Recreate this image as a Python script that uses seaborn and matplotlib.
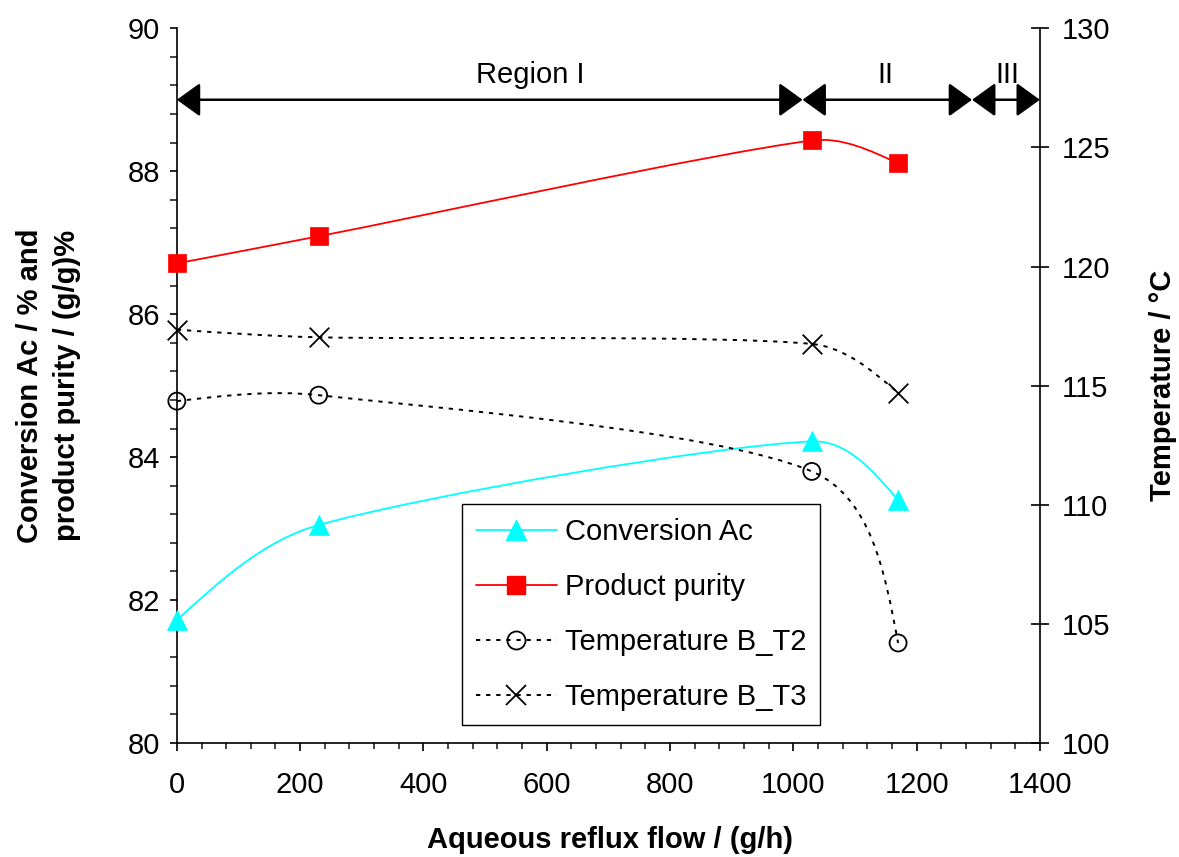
import numpy as np
import pandas as pd
import matplotlib
matplotlib.use("Agg")
import matplotlib.pyplot as plt
import seaborn as sns
from matplotlib.path import Path
from matplotlib.patches import PathPatch
from matplotlib.lines import Line2D
from matplotlib.ticker import MultipleLocator

# ---------------- data ----------------
flow = [0, 230, 1030, 1170]
conversion = [81.72, 83.05, 84.22, 83.40]
purity = [86.71, 87.09, 88.43, 88.11]
temp_T2 = [114.35, 114.6, 111.4, 104.2]
temp_T3 = [117.35, 117.03, 116.75, 114.7]

region_edges = [0, 1015, 1290, 1400]
region_labels = ["Region I", "II", "III"]
region_label_x = [573, 1149, 1347]

series_labels = ["Conversion Ac", "Product purity", "Temperature B_T2", "Temperature B_T3"]

# ---------------- style ----------------
sns.set_theme(style="ticks")
plt.rcParams["font.family"] = ["Liberation Sans", "DejaVu Sans"]
plt.rcParams["font.size"] = 21
plt.rcParams["text.color"] = "black"
plt.rcParams["axes.labelcolor"] = "black"

fig = plt.figure(figsize=(11.79, 8.57), dpi=100)
ax = fig.add_axes([0.150, 0.133, 0.732, 0.834])
ax2 = ax.twinx()

ax.set_xlim(0, 1400)
ax.set_ylim(80, 90)
ax2.set_ylim(100, 130)


def smooth_patch(a, x, y, **kw):
    """Excel-like smoothed line: cubic Bezier path through the data points,
    control handles computed in screen space."""
    tr = a.transData
    pts = tr.transform(np.column_stack([x, y]).astype(float))
    n = len(pts)
    seg = [np.linalg.norm(pts[i + 1] - pts[i]) for i in range(n - 1)]

    def handle(i, j, sgn):
        lo, hi = max(i - 1, 0), min(i + 1, n - 1)
        t = (pts[hi] - pts[lo]) / 6.0
        L = seg[min(i, j)]
        ln = np.linalg.norm(t)
        if ln > L / 3.0:
            t = t * (L / 3.0) / ln
        return pts[i] + sgn * t

    verts = [pts[0]]
    codes = [Path.MOVETO]
    for i in range(n - 1):
        j = i + 1
        c1 = handle(i, j, 1) if i > 0 else None
        c2 = handle(j, i, -1) if j < n - 1 else None
        if c1 is None:
            c1 = pts[i] + (c2 - pts[i]) * 0.5
        if c2 is None:
            c2 = pts[j] + (c1 - pts[j]) * 0.5
        verts += [c1, c2, pts[j]]
        codes += [Path.CURVE4] * 3
    verts = tr.inverted().transform(np.array(verts))
    return PathPatch(Path(verts, codes), fill=False, transform=a.transData, **kw)


df = pd.DataFrame({"flow": flow, "conv": conversion, "pur": purity,
                   "t2": temp_T2, "t3": temp_T3})

dot = (0, (2.2, 3.0))
# left axis series
ax.add_patch(smooth_patch(ax, flow, conversion, edgecolor="#00FFFF", lw=1.3, zorder=3))
ax.add_patch(smooth_patch(ax, flow, purity, edgecolor="#FF0000", lw=1.3, zorder=3))
sns.scatterplot(data=df, x="flow", y="conv", ax=ax, marker="^", s=210,
                color="#00FFFF", edgecolor="#00FFFF", linewidth=0.5, zorder=4,
                legend=False, clip_on=False)
sns.scatterplot(data=df, x="flow", y="pur", ax=ax, marker="s", s=175,
                color="#FF0000", edgecolor="#FF0000", linewidth=0.5, zorder=4,
                legend=False, clip_on=False)

# right axis series
ax2.add_patch(smooth_patch(ax2, flow, temp_T2, edgecolor="black", lw=1.4, linestyle=dot, zorder=3))
ax2.add_patch(smooth_patch(ax2, flow, temp_T3, edgecolor="black", lw=1.4, linestyle=dot, zorder=3))
sns.scatterplot(data=df, x="flow", y="t2", ax=ax2, marker="o", s=150,
                facecolor="none", edgecolor="black", linewidth=1.3, zorder=4,
                legend=False, clip_on=False)
sns.scatterplot(data=df, x="flow", y="t3", ax=ax2, marker="x", s=200,
                color="black", linewidth=1.3, zorder=4, legend=False, clip_on=False)

ax.set_xlim(0, 1400)
ax.set_ylim(80, 90)
ax2.set_ylim(100, 130)
ax.xaxis.set_major_locator(MultipleLocator(200))
ax.xaxis.set_minor_locator(MultipleLocator(40))
ax.yaxis.set_major_locator(MultipleLocator(2))
ax.yaxis.set_minor_locator(MultipleLocator(0.4))
ax2.yaxis.set_major_locator(MultipleLocator(5))

for a in (ax, ax2):
    a.set_facecolor("none")
    a.spines["top"].set_visible(False)
    for s in a.spines.values():
        s.set_linewidth(1.2)
        s.set_color("black")
ax.spines["right"].set_visible(False)
ax2.spines["left"].set_visible(False)
ax2.spines["bottom"].set_visible(False)

ax.tick_params(axis="x", which="major", direction="out", length=6, width=1.2, pad=14, labelsize=21, colors="black")
ax.tick_params(axis="x", which="minor", direction="out", length=4.5, width=1.2)
ax.tick_params(axis="y", which="major", direction="out", length=5, width=1.2, pad=7, labelsize=21, colors="black")
ax.tick_params(axis="y", which="minor", direction="out", length=5, width=1.2)
ax2.tick_params(axis="y", which="major", direction="inout", length=13, width=1.2, pad=9, labelsize=21, colors="black")
ax2.tick_params(axis="y", which="minor", length=0)

# axis labels
ax.set_xlabel("Aqueous reflux flow / (g/h)", fontsize=21, fontweight="bold", va="center")
ax.xaxis.set_label_coords(0.502, -0.136)
ax.set_ylabel("Conversion Ac / % and\nproduct purity / (g/g)%", fontsize=21,
              fontweight="bold", va="center", ha="center", multialignment="center",
              linespacing=1.4)
ax.yaxis.set_label_coords(-0.149, 0.5)
ax2.set_ylabel("Temperature / °C", fontsize=21, fontweight="bold", va="center", ha="center",
               rotation=90)
ax2.yaxis.set_label_coords(1.143, 0.5)

# region arrows
for a0, a1 in zip(region_edges[:-1], region_edges[1:]):
    ax.annotate("", xy=(a1, 89), xytext=(a0, 89),
                arrowprops=dict(arrowstyle="<|-|>,head_length=0.72,head_width=0.52",
                                mutation_scale=20, shrinkA=0, shrinkB=0,
                                color="black", lw=1.8),
                annotation_clip=False, zorder=5)
for lab, lx in zip(region_labels, region_label_x):
    ax.text(lx, 89.35, lab, ha="center", va="center", fontsize=21, color="black")

# legend
handles = [
    Line2D([], [], color="#00FFFF", lw=1.3, marker="^", markersize=14.5, markeredgecolor="#00FFFF"),
    Line2D([], [], color="#FF0000", lw=1.3, marker="s", markersize=13, markeredgecolor="#FF0000"),
    Line2D([], [], color="black", lw=1.4, linestyle=dot, marker="o", markersize=13,
           markerfacecolor="none", markeredgecolor="black", markeredgewidth=1.3),
    Line2D([], [], color="black", lw=1.4, linestyle=dot, marker="x", markersize=14,
           markeredgecolor="black", markeredgewidth=1.3),
]
leg = ax2.legend(handles, series_labels, loc="lower left", bbox_to_anchor=(0.330, 0.025),
                 fontsize=21, frameon=True, fancybox=False, edgecolor="black",
                 framealpha=1, handlelength=2.8, handletextpad=0.25, labelspacing=0.93,
                 borderpad=0.48, borderaxespad=0)
leg.get_frame().set_linewidth(1.0)

fig.savefig("out.png", dpi=100)
